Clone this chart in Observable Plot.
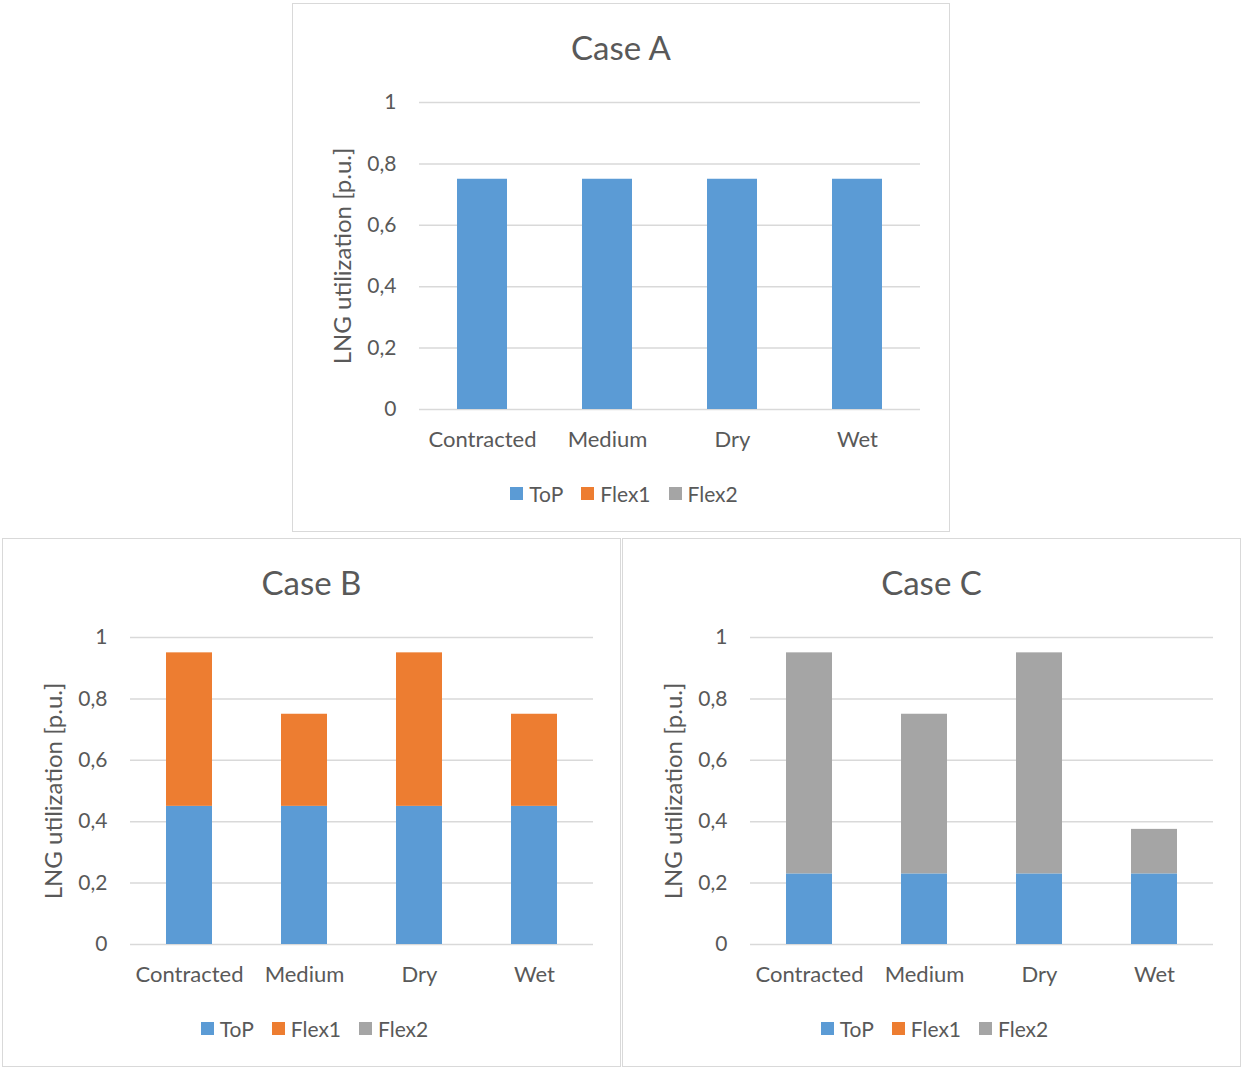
<!DOCTYPE html>
<html>
<head>
<meta charset="utf-8">
<script src="https://cdn.jsdelivr.net/npm/d3@7"></script>
<script src="https://cdn.jsdelivr.net/npm/@observablehq/plot@0.6"></script>
<style>
  body { margin: 0; background: #fff; font-family: Lato, "Open Sans", sans-serif; }
  #page { position: relative; width: 1241px; height: 1067px; overflow: hidden; }
  .panel { position: absolute; box-sizing: border-box; border: 1.5px solid #d9d9d9; background: #fff; }
  .title { position: absolute; text-align: center; font-size: 33px; color: #595959; line-height: 1; }
  .legend { position: absolute; display: flex; justify-content: center; align-items: center;
            font-size: 21px; color: #595959; line-height: 1; padding-left: 6px; box-sizing: border-box; }
  .legend .item { display: flex; align-items: center; margin: 0 9px; }
  .legend .sw { width: 13px; height: 13px; margin-right: 6px; }
  .chart { position: absolute; }
</style>
</head>
<body>
<div id="page"></div>
<script>
// Scenarios on the x axis and the stacked components
const categories = ["Contracted", "Medium", "Dry", "Wet"];
const series = ["ToP", "Flex1", "Flex2"];
const colors = ["#5b9bd5", "#ed7d31", "#a5a5a5"];
const yTicks = [0, 0.2, 0.4, 0.6, 0.8, 1];
const yLabel = "LNG utilization [p.u.]";

// Case A: take-or-pay only
const caseA_ToP   = [0.75, 0.75, 0.75, 0.75];
const caseA_Flex1 = [0, 0, 0, 0];
const caseA_Flex2 = [0, 0, 0, 0];

// Case B: take-or-pay plus Flex1
const caseB_ToP   = [0.45, 0.45, 0.45, 0.45];
const caseB_Flex1 = [0.50, 0.30, 0.50, 0.30];
const caseB_Flex2 = [0, 0, 0, 0];

// Case C: take-or-pay plus Flex2
const caseC_ToP   = [0.23, 0.23, 0.23, 0.23];
const caseC_Flex1 = [0, 0, 0, 0];
const caseC_Flex2 = [0.72, 0.52, 0.72, 0.145];

function toRows(top, flex1, flex2) {
  const rows = [];
  const cols = [top, flex1, flex2];
  categories.forEach((c, i) => {
    series.forEach((s, j) => {
      if (cols[j][i] > 0) rows.push({category: c, series: s, value: cols[j][i]});
    });
  });
  return rows;
}

const fmt = d => String(d).replace(".", ",");
const page = document.getElementById("page");

function panel(name, rows, box, plotLeft, plotRight) {
  const div = document.createElement("div");
  div.className = "panel";
  Object.assign(div.style, {left: box.left + "px", top: box.top + "px", width: box.width + "px", height: box.height + "px"});
  page.appendChild(div);

  const title = document.createElement("div");
  title.className = "title";
  title.textContent = name;
  Object.assign(title.style, {top: (box.top + 28) + "px", left: box.left + "px", width: box.width + "px"});
  page.appendChild(title);

  const chart = Plot.plot({
    width: box.width,
    height: 382,
    marginLeft: plotLeft - box.left,
    marginRight: box.left + box.width - plotRight,
    marginTop: 24,
    marginBottom: 51,
    style: {fontFamily: "Lato, 'Open Sans', sans-serif", fontSize: "21px", color: "#595959", background: "transparent", overflow: "visible"},
    x: {domain: categories, paddingInner: 0.6, paddingOuter: 0.3, label: null},
    y: {domain: [0, 1], label: null},
    color: {domain: series, range: colors},
    marks: [
      Plot.gridY(yTicks, {stroke: "#d9d9d9", strokeOpacity: 1, strokeWidth: 1.5}),
      Plot.barY(rows, {x: "category", y: "value", fill: "series"}),
      Plot.axisY(yTicks, {tickSize: 0, tickPadding: 23, tickFormat: fmt, fontSize: 21, label: null}),
      Plot.axisX({tickSize: 0, tickPadding: 22, fontSize: 22, label: null}),
      Plot.text([yLabel], {frameAnchor: "left", textAnchor: "middle", lineAnchor: "middle", rotate: -90, dx: -76, fontSize: 24, fill: "#595959", text: d => d})
    ]
  });
  chart.classList.add("chart");
  chart.style.left = box.left + "px";
  chart.style.top = (box.top + 75) + "px";
  page.appendChild(chart);

  const legend = document.createElement("div");
  legend.className = "legend";
  Object.assign(legend.style, {top: (box.top + 480) + "px", left: box.left + "px", width: box.width + "px"});
  series.forEach((s, i) => {
    const item = document.createElement("span");
    item.className = "item";
    const sw = document.createElement("span");
    sw.className = "sw";
    sw.style.background = colors[i];
    const lab = document.createElement("span");
    lab.textContent = s;
    item.appendChild(sw);
    item.appendChild(lab);
    legend.appendChild(item);
  });
  page.appendChild(legend);
}

panel("Case A", toRows(caseA_ToP, caseA_Flex1, caseA_Flex2), {left: 292, top: 3, width: 658, height: 529}, 419, 920);
panel("Case B", toRows(caseB_ToP, caseB_Flex1, caseB_Flex2), {left: 2, top: 538, width: 619, height: 529}, 130, 593);
panel("Case C", toRows(caseC_ToP, caseC_Flex1, caseC_Flex2), {left: 622, top: 538, width: 619, height: 529}, 750, 1213);
</script>
</body>
</html>
